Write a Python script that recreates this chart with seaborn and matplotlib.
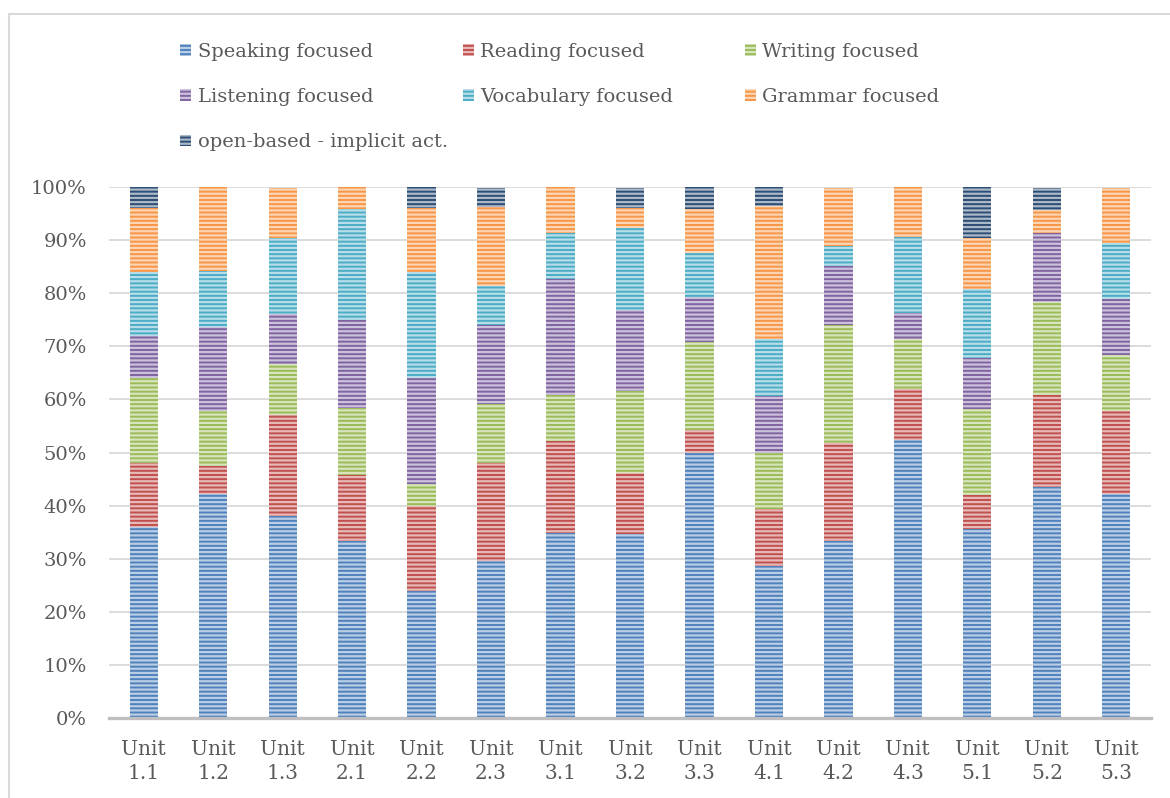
import numpy as np
import matplotlib
matplotlib.use("Agg")
import matplotlib.pyplot as plt
import seaborn as sns
from matplotlib.patches import Patch
from matplotlib.lines import Line2D
from matplotlib.colors import to_rgb

# ---------------- data ----------------
units = ["Unit\n1.1", "Unit\n1.2", "Unit\n1.3", "Unit\n2.1", "Unit\n2.2", "Unit\n2.3",
         "Unit\n3.1", "Unit\n3.2", "Unit\n3.3", "Unit\n4.1", "Unit\n4.2", "Unit\n4.3",
         "Unit\n5.1", "Unit\n5.2", "Unit\n5.3"]

speaking   = [36.0, 42.1, 38.1, 33.3, 24.0, 29.6, 34.8, 34.6, 50.0, 28.6, 33.3, 52.4, 35.5, 43.5, 42.1]
reading    = [12.0,  5.3, 19.0, 12.5, 16.0, 18.5, 17.4, 11.5,  4.2, 10.7, 18.5,  9.5,  6.5, 17.4, 15.8]
writing    = [16.0, 10.5,  9.5, 12.5,  4.0, 11.1,  8.7, 15.4, 16.7, 10.7, 22.2,  9.5, 16.1, 17.4, 10.5]
listening  = [ 8.0, 15.8,  9.5, 16.7, 20.0, 14.8, 21.7, 15.4,  8.3, 10.7, 11.1,  4.8,  9.7, 13.0, 10.5]
vocabulary = [12.0, 10.5, 14.3, 20.8, 20.0,  7.4,  8.7, 15.4,  8.3, 10.7,  3.7, 14.3, 12.9,  0.0, 10.5]
grammar    = [12.0, 15.8,  9.5,  4.2, 12.0, 14.8,  8.7,  3.8,  8.3, 25.0, 11.1,  9.5,  9.7,  4.3, 10.5]
open_based = [ 4.0,  0.0,  0.0,  0.0,  4.0,  3.7,  0.0,  3.8,  4.2,  3.6,  0.0,  0.0,  9.7,  4.3,  0.0]

series_names = ["Speaking focused", "Reading focused", "Writing focused",
                "Listening focused", "Vocabulary focused", "Grammar focused",
                "open-based - implicit act."]
series_values = [speaking, reading, writing, listening, vocabulary, grammar, open_based]
colors = ["#4F81BD", "#C0504D", "#9BBB59", "#8064A2", "#4BACC6", "#F79646", "#2C4D75"]
yticks = [0, 10, 20, 30, 40, 50, 60, 70, 80, 90, 100]

# ---------------- style ----------------
sns.set_theme(style="white")
plt.rcParams["font.family"] = ["DejaVu Serif"]
plt.rcParams["hatch.linewidth"] = 1.6
TXT = "#595959"


def lighten(c, f):
    r, g, b = to_rgb(c)
    return (r + (1 - r) * f, g + (1 - g) * f, b + (1 - b) * f)


W, H = 1170, 798
fig = plt.figure(figsize=(W / 100, H / 100), dpi=100)
ax = fig.add_axes([109 / W, (H - 718) / H, (1151 - 109) / W, (718 - 187) / H])

bottom = np.zeros(len(units))
for name, vals, col in zip(series_names, series_values, colors):
    sns.barplot(x=units, y=vals, bottom=bottom.copy(), color=col, width=0.406,
                saturation=1, errorbar=None, ax=ax,
                edgecolor=lighten(col, 0.6), linewidth=0, hatch="----", zorder=3)
    bottom += np.array(vals)

ax.set_ylim(0, 100)
ax.set_xlim(-0.5, len(units) - 0.5)
ax.set_yticks(yticks)
ax.set_yticklabels([f"{v}%" for v in yticks])
ax.set_axisbelow(True)
ax.yaxis.grid(True, color="#D9D9D9", linewidth=1.3)
ax.xaxis.grid(False)
for s in ["left", "right", "top"]:
    ax.spines[s].set_visible(False)
ax.spines["bottom"].set_color("#BFBFBF")
ax.spines["bottom"].set_linewidth(2.4)
ax.spines["bottom"].set_zorder(5)
ax.tick_params(axis="y", length=0, pad=16, labelsize=14, labelcolor=TXT)
ax.tick_params(axis="x", length=0, pad=16, labelsize=14.5, labelcolor=TXT)
for t in ax.get_xticklabels():
    t.set_linespacing(1.3)
ax.set_xlabel("")
ax.set_ylabel("")

# ---------------- legend (three equal-width columns, row-major) ----------------
col_x = [180, 463, 745]
for c in range(3):
    idx = [i for i in range(len(series_names)) if i % 3 == c]
    handles = [Patch(facecolor=colors[i], edgecolor=lighten(colors[i], 0.6),
                     linewidth=0, hatch="----") for i in idx]
    labels = [series_names[i] for i in idx]
    leg = fig.legend(handles, labels, loc="upper left",
                     bbox_to_anchor=(col_x[c] / W, 1 - 43 / H),
                     frameon=False, fontsize=14, handlelength=0.55, handleheight=0.55,
                     handletextpad=0.35, labelspacing=1.4, borderpad=0, borderaxespad=0)
    for t in leg.get_texts():
        t.set_color(TXT)

# ---------------- outer chart border ----------------
fig.add_artist(Line2D([8.5 / W, 8.5 / W], [0, 1 - 13.5 / H], transform=fig.transFigure,
                      color="#D9D9D9", linewidth=1.5))
fig.add_artist(Line2D([8.5 / W, 1], [1 - 13.5 / H, 1 - 13.5 / H], transform=fig.transFigure,
                      color="#D9D9D9", linewidth=1.5))

fig.savefig("out.png", dpi=100)
